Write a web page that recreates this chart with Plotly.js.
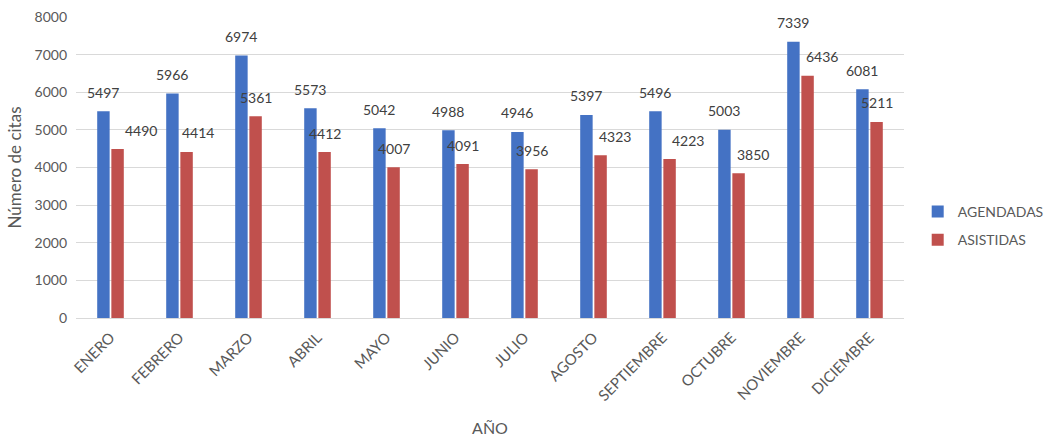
<!DOCTYPE html>
<html>
<head>
<meta charset="utf-8">
<script src="https://cdn.plot.ly/plotly-3.0.1.min.js"></script>
<style>html,body{margin:0;padding:0;background:#fff;}#chart{width:1050px;height:437px;}</style>
</head>
<body>
<div id="chart"></div>
<script>
const meses = ["ENERO","FEBRERO","MARZO","ABRIL","MAYO","JUNIO","JULIO","AGOSTO","SEPTIEMBRE","OCTUBRE","NOVIEMBRE","DICIEMBRE"];
const agendadas = [5497,5966,6974,5573,5042,4988,4946,5397,5496,5003,7339,6081];
const asistidas = [4490,4414,5361,4412,4007,4091,3956,4323,4223,3850,6436,5211];
const yTicks = [0,1000,2000,3000,4000,5000,6000,7000,8000];

// label placement nudges (px) for ASISTIDAS labels, as in the reference
const asistidasLabelNudge = [23,11,0,0,0,0,0,14,18,14,14,0];

const M = {l:76, r:146, t:17, b:119, autoexpand: false};
const W = 1050, H = 437;
const bargap = 0.59;
const catPx = (W - M.l - M.r) / meses.length;
const slotPx = (1 - bargap) * catPx / 2;

const FONT = "Lato, 'Open Sans', sans-serif";
const labelColor = "#404040";

const annotations = [];
meses.forEach((m, i) => {
  annotations.push({x: m, y: agendadas[i], xref: 'x', yref: 'y', text: String(agendadas[i]),
    showarrow: false, xshift: -slotPx/2, yshift: 19, yanchor: 'middle',
    font: {family: FONT, size: 14, color: labelColor}});
  annotations.push({x: m, y: asistidas[i], xref: 'x', yref: 'y', text: String(asistidas[i]),
    showarrow: false, xshift: slotPx/2 + asistidasLabelNudge[i], yshift: 19, yanchor: 'middle',
    font: {family: FONT, size: 14, color: labelColor}});
});

const data = [
  {type: 'bar', name: 'AGENDADAS', legendgroup: 'a', x: meses, y: agendadas, marker: {color: '#4472C4'}, hoverinfo: 'none'},
  {type: 'bar', name: 'ASISTIDAS', legendgroup: 'b', x: meses, y: asistidas, marker: {color: '#C0504D'}, hoverinfo: 'none'}
];

const layout = {
  width: W, height: H,
  margin: M,
  paper_bgcolor: '#fff', plot_bgcolor: '#fff',
  barmode: 'group', bargap: bargap, bargroupgap: 0.12,
  font: {family: FONT, size: 13, color: '#595959'},
  xaxis: {
    type: 'category', tickangle: -45, showgrid: false,
    showline: true, linecolor: '#d9d9d9', linewidth: 1,
    ticks: '', tickfont: {family: FONT, size: 15, color: '#595959'},
    ticklabelstandoff: 4,
    title: {text: 'AÑO', font: {family: FONT, size: 16, color: '#595959'}, standoff: 23}
  },
  yaxis: {
    range: [0, 8000], tickvals: yTicks, ticktext: yTicks.map(String),
    showgrid: true, gridcolor: '#d9d9d9', gridwidth: 1, zeroline: false,
    showline: false, ticks: '', ticklabelstandoff: 8,
    tickfont: {family: FONT, size: 14, color: '#595959'},
    title: {text: 'Número de citas', font: {family: FONT, size: 17, color: '#595959'}, standoff: 8}
  },
  legend: {
    x: 0.874, y: 0.483, xref: 'container', yref: 'container', xanchor: 'left', yanchor: 'middle',
    font: {family: FONT, size: 14, color: '#595959'},
    tracegroupgap: 7, itemwidth: 30
  },
  annotations: annotations,
  showlegend: true
};

Plotly.newPlot('chart', data, layout, {displayModeBar: false, staticPlot: true});
</script>
</body>
</html>
